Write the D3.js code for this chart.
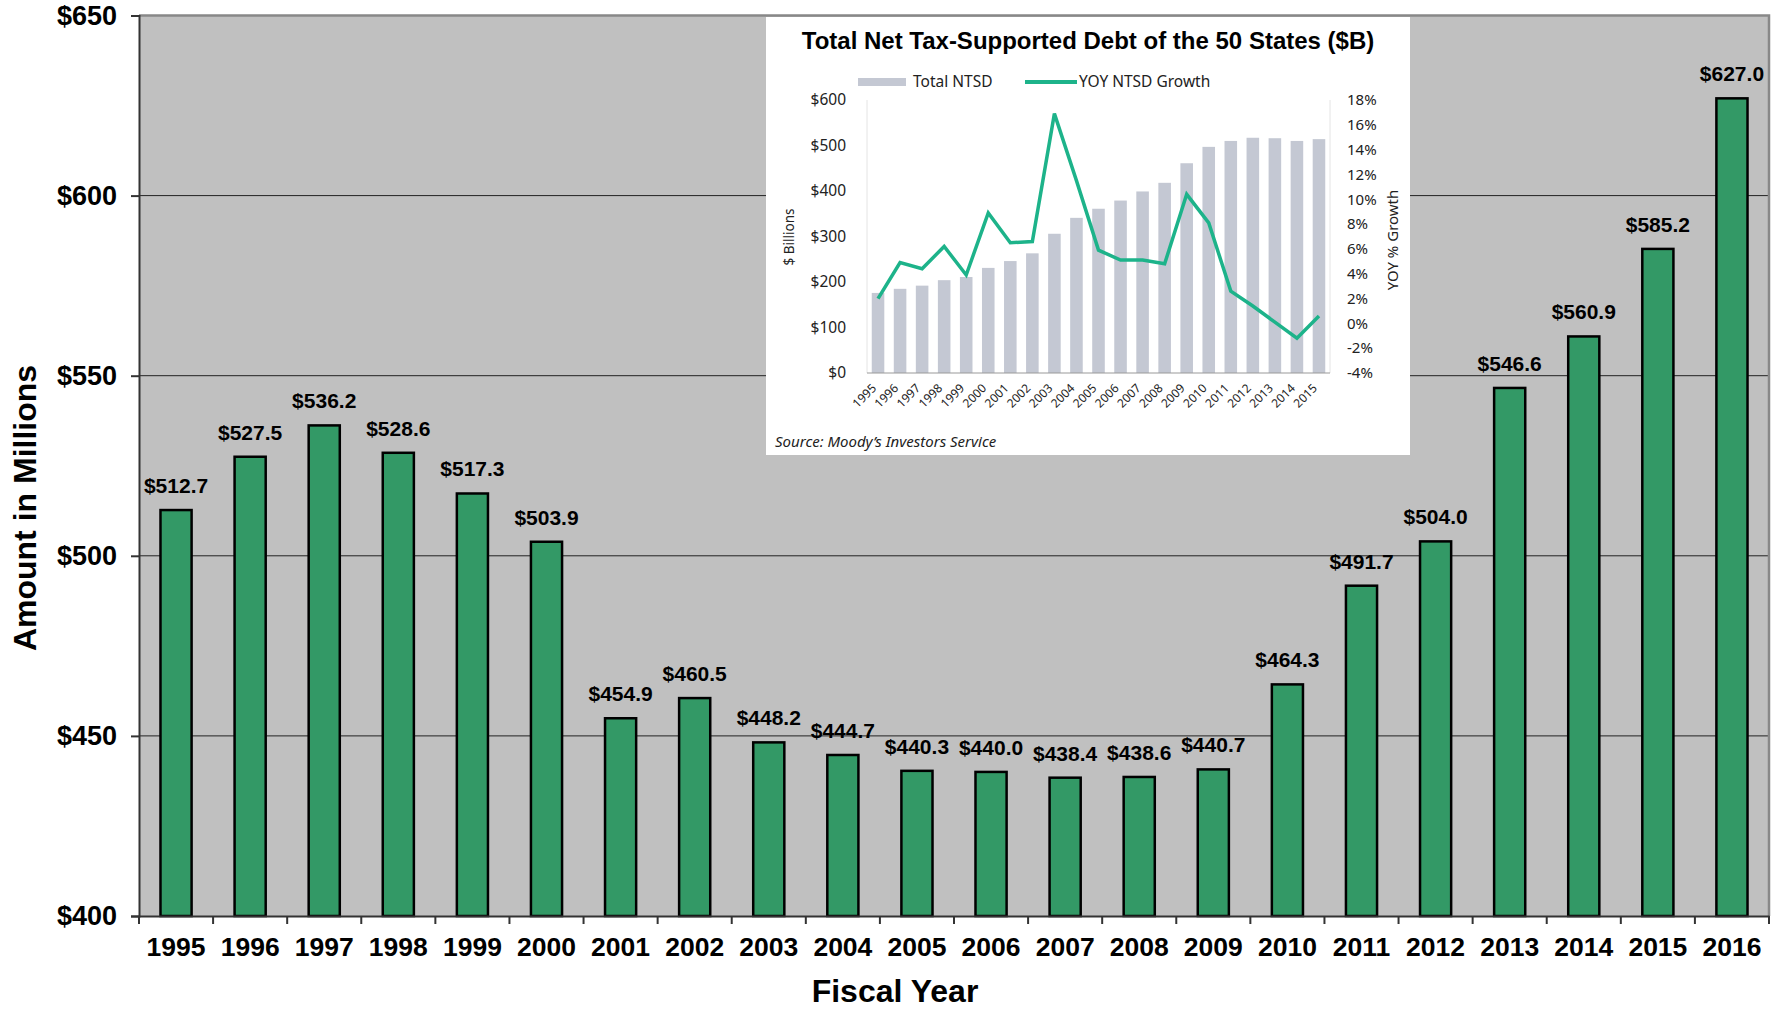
<!DOCTYPE html>
<html>
<head>
<meta charset="utf-8">
<script src="https://cdn.jsdelivr.net/npm/d3@7"></script>
<style>
  body { margin: 0; background: #fff; }
</style>
</head>
<body>
<div id="chart"></div>
<script>
// main chart data ($ millions by fiscal year)
var years = ["1995","1996","1997","1998","1999","2000","2001","2002","2003","2004","2005",
             "2006","2007","2008","2009","2010","2011","2012","2013","2014","2015","2016"];
var amounts = [512.7, 527.5, 536.2, 528.6, 517.3, 503.9, 454.9, 460.5, 448.2, 444.7, 440.3,
               440.0, 438.4, 438.6, 440.7, 464.3, 491.7, 504.0, 546.6, 560.9, 585.2, 627.0];
var yTicks = [400, 450, 500, 550, 600, 650];

// inset data (Moody's)
var insetYears = ["1995","1996","1997","1998","1999","2000","2001","2002","2003","2004","2005",
                  "2006","2007","2008","2009","2010","2011","2012","2013","2014","2015"];
var ntsd = [176, 185, 192, 204, 211, 231, 246, 263, 306, 341, 361,
            379, 399, 418, 461, 497, 510, 517, 516, 510, 514];
var growth = [2.0, 4.9, 4.4, 6.2, 3.9, 8.9, 6.5, 6.6, 16.9, 11.5, 5.9,
              5.1, 5.1, 4.8, 10.4, 8.1, 2.6, 1.4, 0.1, -1.2, 0.6];
var leftTicks = [0, 100, 200, 300, 400, 500, 600];
var rightTicks = [-4, -2, 0, 2, 4, 6, 8, 10, 12, 14, 16, 18];

var W = 1787, H = 1010;
var plot = {left: 139, right: 1769, top: 15.5, bottom: 916};
var bold = "Liberation Sans, Arial, sans-serif";
var inFont = "'Noto Sans', 'Open Sans', sans-serif";

var svg = d3.select("#chart").append("svg")
    .attr("width", W)
    .attr("height", H);

var x = d3.scaleBand()
    .domain(years)
    .range([plot.left, plot.right])
    .paddingInner(0.58)
    .paddingOuter(0.29);

var y = d3.scaleLinear()
    .domain([400, 650])
    .range([plot.bottom, plot.top]);

// plot background
svg.append("rect")
    .attr("x", plot.left).attr("y", plot.top)
    .attr("width", plot.right - plot.left).attr("height", plot.bottom - plot.top)
    .attr("fill", "#c0c0c0");

// gridlines
svg.append("g").selectAll("line")
    .data(yTicks.slice(1, -1))
    .enter().append("line")
    .attr("x1", plot.left).attr("x2", plot.right)
    .attr("y1", d => y(d)).attr("y2", d => y(d))
    .attr("stroke", "#222").attr("stroke-width", 1);

// top / right border
svg.append("path")
    .attr("d", `M${plot.left},${plot.top}H${plot.right}V${plot.bottom}`)
    .attr("fill", "none").attr("stroke", "#888").attr("stroke-width", 2.5);

// bars
svg.append("g").selectAll("rect")
    .data(amounts)
    .enter().append("rect")
    .attr("x", (d, i) => x(years[i]))
    .attr("y", d => y(d))
    .attr("width", x.bandwidth())
    .attr("height", d => y(400) - y(d))
    .attr("fill", "#339966")
    .attr("stroke", "#000")
    .attr("stroke-width", 2.5);

// value labels
svg.append("g").selectAll("text")
    .data(amounts)
    .enter().append("text")
    .attr("x", (d, i) => x(years[i]) + x.bandwidth() / 2)
    .attr("y", d => y(d) - 17)
    .attr("text-anchor", "middle")
    .attr("font-family", bold).attr("font-weight", "bold").attr("font-size", 21)
    .attr("fill", "#000")
    .text(d => "$" + d.toFixed(1));

// y axis
var axisleft = d3.axisLeft(y)
    .tickValues(yTicks)
    .tickFormat(d => "$" + d)
    .tickSize(8)
    .tickPadding(14);

var gy = svg.append("g")
    .attr("transform", `translate(${plot.left},0)`)
    .call(axisleft);
gy.select(".domain").attr("stroke", "#333").attr("stroke-width", 2);
gy.selectAll(".tick line").attr("stroke", "#333").attr("stroke-width", 2);
gy.selectAll(".tick text")
    .attr("font-family", bold).attr("font-weight", "bold").attr("font-size", 27).attr("fill", "#000");

// x axis: labels under bands, ticks at band edges
var axisbottom = d3.axisBottom(x).tickSize(0).tickPadding(21);
var gx = svg.append("g")
    .attr("transform", `translate(0,${plot.bottom})`)
    .call(axisbottom);
gx.select(".domain").attr("stroke", "#333").attr("stroke-width", 2);
gx.selectAll(".tick text")
    .attr("font-family", bold).attr("font-weight", "bold").attr("font-size", 26.5).attr("fill", "#000");

var edges = years.map(d => x(d) + x.bandwidth() / 2 - x.step() / 2);
edges.push(plot.right);
svg.append("g").selectAll("line")
    .data(edges)
    .enter().append("line")
    .attr("x1", d => d).attr("x2", d => d)
    .attr("y1", plot.bottom).attr("y2", plot.bottom + 8)
    .attr("stroke", "#333").attr("stroke-width", 2);

// axis titles
svg.append("text")
    .attr("x", 895).attr("y", 1002)
    .attr("text-anchor", "middle")
    .attr("font-family", bold).attr("font-weight", "bold").attr("font-size", 32)
    .text("Fiscal Year");

svg.append("text")
    .attr("transform", "translate(36,508) rotate(-90)")
    .attr("text-anchor", "middle")
    .attr("font-family", bold).attr("font-weight", "bold").attr("font-size", 32)
    .text("Amount in Millions");

// ---------- inset ----------
var box = {left: 766, top: 17, right: 1410, bottom: 455};
var ins = {left: 867, right: 1330, top: 100, bottom: 373};

var inset = svg.append("g");
inset.append("rect")
    .attr("x", box.left).attr("y", box.top)
    .attr("width", box.right - box.left).attr("height", box.bottom - box.top)
    .attr("fill", "#fff");

inset.append("text")
    .attr("x", (box.left + box.right) / 2).attr("y", 49)
    .attr("text-anchor", "middle")
    .attr("font-family", bold).attr("font-weight", "bold").attr("font-size", 24)
    .text("Total Net Tax-Supported Debt of the 50 States ($B)");

var ix = d3.scaleBand()
    .domain(insetYears)
    .range([ins.left, ins.right])
    .paddingInner(0.43)
    .paddingOuter(0.215);
var iyL = d3.scaleLinear().domain([0, 600]).range([ins.bottom, ins.top]);
var iyR = d3.scaleLinear().domain([-4, 18]).range([ins.bottom, ins.top]);

// light side axis lines
inset.append("line")
    .attr("x1", ins.left).attr("x2", ins.left).attr("y1", ins.top).attr("y2", ins.bottom)
    .attr("stroke", "#e4e4e4");
inset.append("line")
    .attr("x1", ins.right).attr("x2", ins.right).attr("y1", ins.top).attr("y2", ins.bottom)
    .attr("stroke", "#e4e4e4");

inset.append("g").selectAll("rect")
    .data(ntsd)
    .enter().append("rect")
    .attr("x", (d, i) => ix(insetYears[i]))
    .attr("y", d => iyL(d))
    .attr("width", ix.bandwidth())
    .attr("height", d => iyL(0) - iyL(d))
    .attr("fill", "#c4c8d3");

inset.append("line")
    .attr("x1", ins.left).attr("x2", ins.right).attr("y1", ins.bottom).attr("y2", ins.bottom)
    .attr("stroke", "#999").attr("stroke-width", 1.2);

var line = d3.line()
    .x((d, i) => ix(insetYears[i]) + ix.bandwidth() / 2)
    .y(d => iyR(d));

inset.append("path")
    .datum(growth)
    .attr("d", line)
    .attr("fill", "none")
    .attr("stroke", "#1db38a")
    .attr("stroke-width", 3.5)
    .attr("stroke-linejoin", "miter");

// inset tick labels
var gl = inset.append("g")
    .attr("transform", `translate(${ins.left},0)`)
    .call(d3.axisLeft(iyL).tickValues(leftTicks).tickFormat(d => "$" + d).tickSize(0).tickPadding(21));
gl.select(".domain").remove();
gl.selectAll("text").attr("font-family", inFont).attr("font-size", 15.5).attr("fill", "#222");

var gr = inset.append("g")
    .attr("transform", `translate(${ins.right},0)`)
    .call(d3.axisRight(iyR).tickValues(rightTicks).tickFormat(d => d + "%").tickSize(0).tickPadding(17));
gr.select(".domain").remove();
gr.selectAll("text").attr("font-family", inFont).attr("font-size", 15).attr("fill", "#222");

inset.append("g").selectAll("text")
    .data(insetYears)
    .enter().append("text")
    .attr("transform", d => `translate(${ix(d) + ix.bandwidth() / 2 - 4},${ins.bottom + 13}) rotate(-45)`)
    .attr("text-anchor", "end")
    .attr("dy", "0.35em")
    .attr("font-family", inFont).attr("font-size", 12).attr("fill", "#222")
    .text(d => d);

inset.append("text")
    .attr("transform", "translate(794,237) rotate(-90)")
    .attr("text-anchor", "middle")
    .attr("font-family", inFont).attr("font-size", 13.5).attr("fill", "#222")
    .text("$ Billions");

inset.append("text")
    .attr("transform", "translate(1398,240) rotate(-90)")
    .attr("text-anchor", "middle")
    .attr("font-family", inFont).attr("font-size", 15).attr("fill", "#222")
    .text("YOY % Growth");

// legend
inset.append("rect")
    .attr("x", 858).attr("y", 78).attr("width", 48).attr("height", 8)
    .attr("fill", "#c4c8d3");
inset.append("text")
    .attr("x", 913).attr("y", 87)
    .attr("font-family", inFont).attr("font-size", 15.5).attr("fill", "#222")
    .text("Total NTSD");
inset.append("line")
    .attr("x1", 1025).attr("x2", 1077).attr("y1", 82).attr("y2", 82)
    .attr("stroke", "#1db38a").attr("stroke-width", 4);
inset.append("text")
    .attr("x", 1079).attr("y", 87)
    .attr("font-family", inFont).attr("font-size", 15.5).attr("fill", "#222")
    .text("YOY NTSD Growth");

inset.append("text")
    .attr("x", 775).attr("y", 447)
    .attr("font-family", inFont).attr("font-style", "italic").attr("font-size", 15).attr("fill", "#222")
    .text("Source: Moody\u2019s Investors Service");
</script>
</body>
</html>
